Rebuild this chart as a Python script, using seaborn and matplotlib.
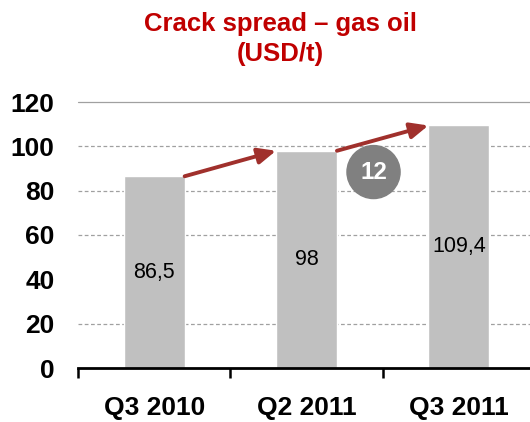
import matplotlib
matplotlib.use("Agg")
import matplotlib.pyplot as plt
import seaborn as sns
import pandas as pd
from matplotlib.patches import Ellipse

categories = ["Q3 2010", "Q2 2011", "Q3 2011"]
values = [86.5, 98, 109.4]
value_labels = ["86,5", "98", "109,4"]
y_ticks = [0, 20, 40, 60, 80, 100, 120]
delta_label = "12"
title = "Crack spread \u2013 gas oil\n(USD/t)"

sns.set_theme(style="white")
plt.rcParams["font.family"] = ["Liberation Sans", "DejaVu Sans"]

df = pd.DataFrame({"cat": categories, "val": values})

fig = plt.figure(figsize=(5.30, 4.22), dpi=100)
ax = fig.add_axes([78/530, 54/422, 457/530, 266/422])

sns.barplot(data=df, x="cat", y="val", color="#C0C0C0", width=0.4,
            saturation=1, ax=ax, zorder=3)

ax.set_xlim(-0.5, 2.5)
ax.set_ylim(0, 120)

# gridlines
for yv in y_ticks[1:]:
    if yv == 40:
        continue
    ax.axhline(yv, color="#A0A0A0", lw=0.9, ls=(0, (3, 2)) if yv != 120 else "-",
               zorder=1, clip_on=False)

for s in ["top", "right", "left"]:
    ax.spines[s].set_visible(False)
ax.spines["bottom"].set_color("black")
ax.spines["bottom"].set_linewidth(2)
ax.spines["bottom"].set_zorder(4)

ax.set_yticks(y_ticks)
ax.set_yticklabels([str(v) for v in y_ticks], fontsize=19, fontweight="bold", color="black")
ax.tick_params(axis="y", length=0, pad=17)

ax.set_xticks(range(len(categories)))
ax.set_xticklabels(categories, fontsize=19, fontweight="bold", color="black")
ax.set_xticks([-0.5, 0.5, 1.5, 2.5], minor=True)
ax.tick_params(axis="x", which="major", length=0, pad=20)
ax.tick_params(axis="x", which="minor", length=7, width=1.8, color="black", direction="out", bottom=True)
ax.set_xlabel("")
ax.set_ylabel("")

for i, (v, lab) in enumerate(zip(values, value_labels)):
    ax.text(i, v / 2, lab, ha="center", va="center", fontsize=15.5, color="black", zorder=5)

arrow_col = "#A0302C"
for i in range(len(values) - 1):
    ax.annotate("", xy=(i + 1 - 0.2, values[i + 1]), xytext=(i + 0.2, values[i]),
                arrowprops=dict(arrowstyle="-|>,head_length=0.9,head_width=0.4",
                                color=arrow_col, lw=2.8, shrinkA=0, shrinkB=0),
                zorder=6, annotation_clip=False)

# delta bubble
cx, cy = 1.44, 88.4
ell = Ellipse((cx, cy), width=53 / 152, height=53 / (266 / 120), color="#808080", zorder=6)
ax.add_patch(ell)
ax.text(cx, cy, delta_label, ha="center", va="center", color="white",
        fontsize=17.5, fontweight="bold", zorder=7)

fig.text(280 / 530, 1 - 12 / 422, title, ha="center", va="top", color="#C00000",
         fontsize=18.5, fontweight="bold", linespacing=1.3)

fig.savefig("out.png", dpi=100)
